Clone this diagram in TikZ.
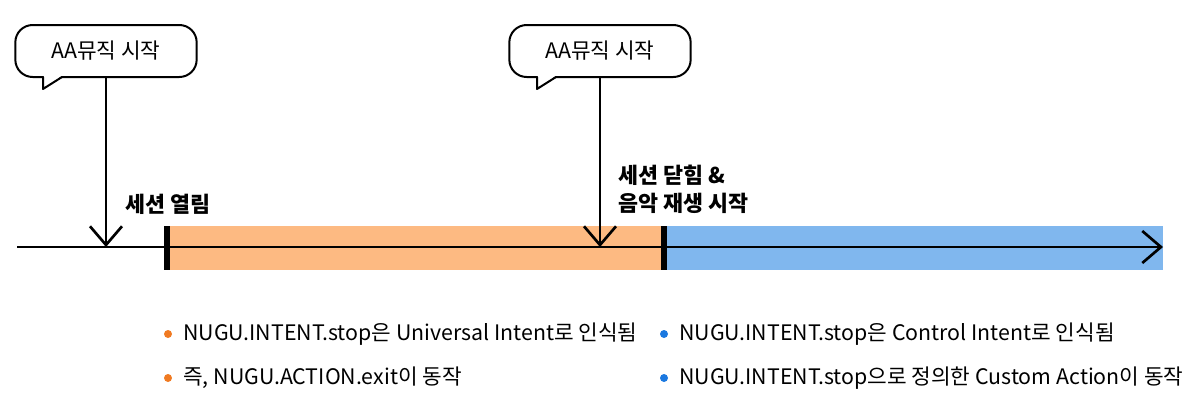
\documentclass[tikz,border=0pt]{standalone}
\usepackage{fontspec}
\setmainfont{Noto Sans CJK KR}
\usetikzlibrary{arrows.meta}
\definecolor{openfill}{HTML}{FDBA82}
\definecolor{closefill}{HTML}{80B7EE}
\definecolor{opendot}{HTML}{F07A22}
\definecolor{closedot}{HTML}{1A78E0}
\begin{document}
\begin{tikzpicture}[x=0.75pt,y=-0.75pt,font=\fontsize{16}{19}\selectfont,
    bubble/.style={draw,line width=1.5pt,rounded corners=13pt,minimum width=136pt,minimum height=39pt,inner sep=0pt},
    tail/.style={line width=1.5pt,line join=round},
    pointer/.style={line width=2pt,-{Straight Barb[length=14pt,width=24pt,line width=2pt]}},
    tick/.style={line width=4pt},
    label/.style={font=\fontsize{16.3}{21}\selectfont\bfseries,align=left,anchor=west,inner sep=0pt},
    item/.style={anchor=west,inner sep=0pt,font=\fontsize{16}{19}\selectfont}]
    \useasboundingbox (0,0) rectangle (1200,412);
    % timeline
    \coordinate (start) at (17,247);
    \coordinate (open) at (167,247);
    \coordinate (close) at (664,247);
    \coordinate (end) at (1163,247);
    \fill[openfill] (167,226) rectangle (664,270);
    \fill[closefill] (664,226) rectangle (1163,270);
    \draw[pointer] (start) -- (end);
    \draw[tick] (167,226) -- (167,270);
    \draw[tick] (664,226) -- (664,270);
    % bubbles
    \node[bubble] (b1) at (106,51) {AA뮤직 시작};
    \node[bubble] (b2) at (600,51) {AA뮤직 시작};
    \fill[white] (44,75) -- (43,89) -- (63,75) -- cycle;
    \draw[tail] (43,77) -- (43,89) -- (62,77);
    \fill[white] (538,75) -- (537,89) -- (557,75) -- cycle;
    \draw[tail] (537,77) -- (537,89) -- (556,77);
    \draw[pointer] (b1.south) -- (b1.south |- start);
    \draw[pointer] (b2.south) -- (b2.south |- start);
    % labels
    \node[label] (opened) at (125,204) {세션 열림};
    \node[label] (closed) at (618,189) {세션 닫힘 \&\\음악 재생 시작};
    % notes
    \fill[opendot] (168,334) circle (3pt);
    \fill[opendot] (168,378) circle (3pt);
    \fill[closedot] (664,334) circle (3pt);
    \fill[closedot] (664,378) circle (3pt);
    \node[item] (o1) at (183,334) {NUGU.INTENT.stop은 Universal Intent로 인식됨};
    \node[item] (o2) at (183,378) {즉, NUGU.ACTION.exit이 동작};
    \node[item] (c1) at (679,334) {NUGU.INTENT.stop은 Control Intent로 인식됨};
    \node[item] (c2) at (679,378) {NUGU.INTENT.stop으로 정의한 Custom Action이 동작};
\end{tikzpicture}
\end{document}
